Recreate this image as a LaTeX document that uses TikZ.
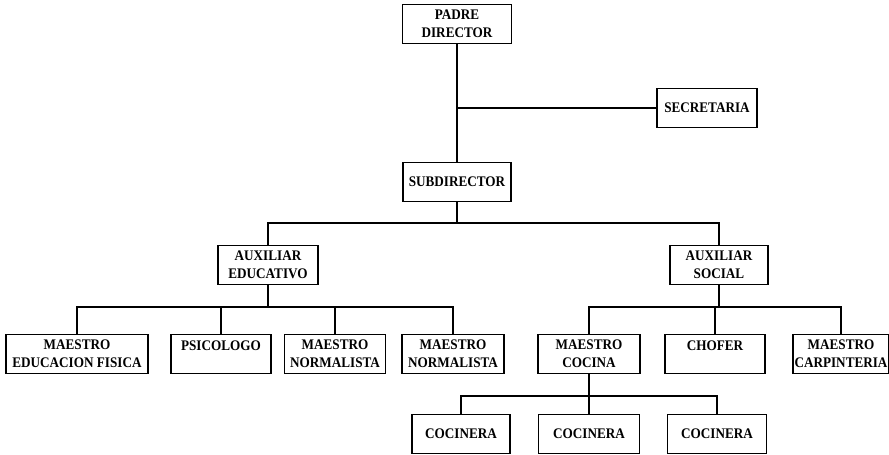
\documentclass[tikz,border=0pt]{standalone}
\usepackage{fontspec}
\setmainfont{Liberation Serif}[FakeStretch=0.9]
\usetikzlibrary{positioning,calc}

\begin{document}
\begin{tikzpicture}[
    x=0.03cm, y=-0.03cm,
    box/.style={draw, rectangle, line width=1pt, inner sep=1pt, minimum height=1.15cm, align=center, font=\fontsize{12.5}{15}\selectfont\bfseries},
    link/.style={line width=1pt}
]
\fill[white] (0,0) rectangle (889,455);
\useasboundingbox (0,0) rectangle (889,455);

% Top: director and secretary
\node[box, minimum width=3.27cm] (padre) at (457,24) {PADRE\\DIRECTOR};
\node[box, minimum width=3cm] (secre) at (707,108) {SECRETARIA};
\node[box, minimum width=3.24cm] (sub) at (457,182) {SUBDIRECTOR};

% Auxiliaries
\node[box, minimum width=3cm] (auxedu) at (268,265) {AUXILIAR\\EDUCATIVO};
\node[box, minimum width=2.94cm] (auxsoc) at (719,265) {AUXILIAR\\SOCIAL};

% Staff under each auxiliary
\node[box, minimum width=4.26cm] (mef) at (77,354) {MAESTRO\\EDUCACION FISICA};
\node[box, minimum width=3cm] (psi) at (221,354) {PSICOLOGO\\\mbox{}};
\node[box, minimum width=3.03cm] (mn1) at (335,354) {MAESTRO\\NORMALISTA};
\node[box, minimum width=3.06cm] (mn2) at (453,354) {MAESTRO\\NORMALISTA};
\node[box, minimum width=3.06cm] (coc) at (589,354) {MAESTRO\\COCINA};
\node[box, minimum width=3cm] (chofer) at (715,354) {CHOFER\\\mbox{}};
\node[box, minimum width=2.88cm] (carp) at (841,354) {MAESTRO\\CARPINTERIA};

% Cooks
\node[box, minimum width=2.94cm] (cna1) at (461,434) {COCINERA};
\node[box, minimum width=3.03cm] (cna2) at (589,434) {COCINERA};
\node[box, minimum width=2.97cm] (cna3) at (717,434) {COCINERA};

% Bus lines
\coordinate (busA) at (457,223);
\coordinate (busB) at (268,307);
\coordinate (busC) at (719,307);
\coordinate (busD) at (589,396);

% Connectors
\draw[link] (padre) -- (sub);
\draw[link] (padre |- secre) -- (secre);
\draw[link] (sub) -- (busA);
\draw[link] (auxedu.north) |- (busA) -| (auxsoc.north);

\draw[link] (auxedu) -- (busB);
\draw[link] (mef.north) |- (busB) -| (mn2.north);
\foreach \n in {psi,mn1}
    \draw[link] (\n.north) -- (\n.north |- busB);

\draw[link] (auxsoc) -- (busC);
\draw[link] (coc.north) |- (busC) -| (carp.north);
\draw[link] (chofer.north) -- (chofer.north |- busC);

\draw[link] (coc) -- (busD);
\draw[link] (cna1.north) |- (busD) -| (cna3.north);
\draw[link] (cna2.north) -- (cna2.north |- busD);

\end{tikzpicture}
\end{document}
